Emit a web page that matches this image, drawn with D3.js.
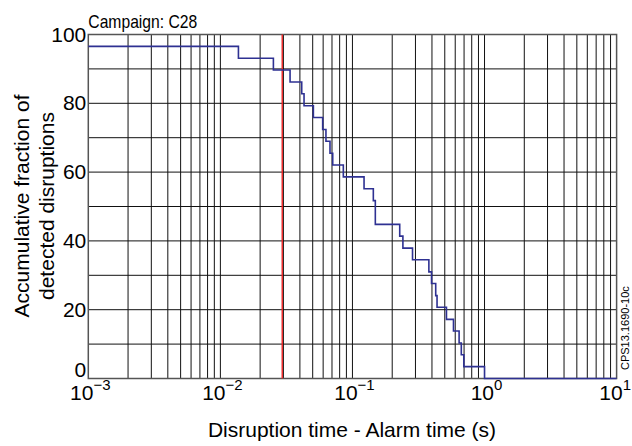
<!DOCTYPE html>
<html>
<head>
<meta charset="utf-8">
<script src="https://cdn.jsdelivr.net/npm/d3@7"></script>
<style>
  body { margin: 0; background: #fff; }
  svg text { font-family: "Liberation Sans", Arial, sans-serif; fill: #000; }
</style>
</head>
<body>
<svg id="chart" width="632" height="446"></svg>
<script>
// step curve: the value holds from each time until the next one
const stepTimes = [0.001, 0.0137, 0.0252, 0.0337, 0.0413, 0.0430, 0.0506, 0.0595, 0.0630, 0.0676,
  0.0709, 0.0853, 0.1224, 0.1439, 0.149, 0.228, 0.241, 0.285, 0.379, 0.397, 0.427, 0.437,
  0.515, 0.582, 0.642, 0.667, 0.697, 1.0, 10];
const stepValues = [96.55, 93.1, 89.66, 86.2, 82.76, 79.3, 75.86, 72.4, 68.97, 65.5,
  62.07, 58.6, 55.17, 51.7, 44.8, 41.4, 37.9, 34.5, 31.0, 27.6, 24.1, 20.7,
  17.2, 13.8, 10.3, 6.9, 3.45, 0, 0];
const alarmLine = 0.0294;
const xDecades = [1e-3, 1e-2, 1e-1, 1e0, 1e1];
const yTicks = [0, 20, 40, 60, 80, 100];
const yGrid = [10, 20, 30, 40, 50, 60, 70, 80, 90];

const svg = d3.select('#chart');
const m = { left: 88.3, right: 616.6, top: 34.5, bottom: 378.5 };

const x = d3.scaleLog().domain([1e-3, 10]).range([m.left, m.right]);
const y = d3.scaleLinear().domain([0, 100]).range([m.bottom, m.top]);

// minor grid 1..9 in every decade
const xGrid = [];
for (let d = -3; d < 1; d++) {
  for (let k = 1; k < 10; k++) xGrid.push(k * Math.pow(10, d));
}

const grid = svg.append('g').attr('stroke', '#111').attr('stroke-width', 1);
grid.selectAll('.vx').data(xGrid.slice(1)).enter().append('line')
  .attr('x1', d => x(d)).attr('x2', d => x(d))
  .attr('y1', m.top).attr('y2', m.bottom);
grid.selectAll('.hy').data(yGrid).enter().append('line')
  .attr('x1', m.left).attr('x2', m.right)
  .attr('y1', d => y(d)).attr('y2', d => y(d));

// frame
svg.append('rect')
  .attr('x', m.left).attr('y', m.top)
  .attr('width', m.right - m.left).attr('height', m.bottom - m.top)
  .attr('fill', 'none').attr('stroke', '#555').attr('stroke-width', 1.5);

// red alarm line
svg.append('line')
  .attr('x1', x(alarmLine)).attr('x2', x(alarmLine))
  .attr('y1', m.top).attr('y2', m.bottom)
  .attr('stroke', '#ee2222').attr('stroke-width', 1.4);

// detection curve
const pts = stepTimes.map((t, i) => [t, stepValues[i]]);
const line = d3.line().x(d => x(d[0])).y(d => y(d[1])).curve(d3.curveStepAfter);
svg.append('path')
  .attr('d', line(pts))
  .attr('fill', 'none')
  .attr('stroke', '#2e3192')
  .attr('stroke-width', 1.6);

// x tick labels: base and exponent as separate texts, centred together on the tick
const xl = svg.append('g');
xDecades.forEach(v => {
  const e = Math.round(Math.log10(v));
  const base = xl.append('text').attr('y', 399.5).attr('font-size', 21).text('10');
  const sup = xl.append('text').attr('y', 390).attr('font-size', 15)
    .text(e < 0 ? '\u2212' + (-e) : String(e));
  const wb = base.node().getComputedTextLength();
  const ws = sup.node().getComputedTextLength();
  const x0 = Math.min(x(v) - (wb + ws) / 2 + 2, 631 - wb - ws); // keep last one inside
  base.attr('x', x0);
  sup.attr('x', x0 + wb);
});

// y tick labels (0 sits on the axis, the others are centred on their line)
svg.append('g').selectAll('text').data(yTicks).enter().append('text')
  .attr('x', m.left - 2).attr('y', d => d === 0 ? y(d) - 2 : y(d) + 7)
  .attr('text-anchor', 'end')
  .attr('font-size', 21)
  .text(d => d);

// titles
svg.append('text')
  .attr('x', m.left).attr('y', 28)
  .attr('font-size', 19)
  .attr('textLength', 109)
  .attr('lengthAdjust', 'spacingAndGlyphs')
  .text('Campaign: C28');

svg.append('text')
  .attr('x', 352).attr('y', 437)
  .attr('text-anchor', 'middle')
  .attr('font-size', 21)
  .text('Disruption time - Alarm time (s)');

const yl = svg.append('text')
  .attr('transform', 'translate(0,206) rotate(-90)')
  .attr('text-anchor', 'middle')
  .attr('font-size', 21);
yl.append('tspan').attr('x', 0).attr('y', 29).text('Accumulative fraction of');
yl.append('tspan').attr('x', 0).attr('y', 54).text('detected disruptions');

svg.append('text')
  .attr('transform', 'translate(629,370) rotate(-90)')
  .attr('font-size', 11)
  .text('CPS13.1690-10c');
</script>
</body>
</html>
